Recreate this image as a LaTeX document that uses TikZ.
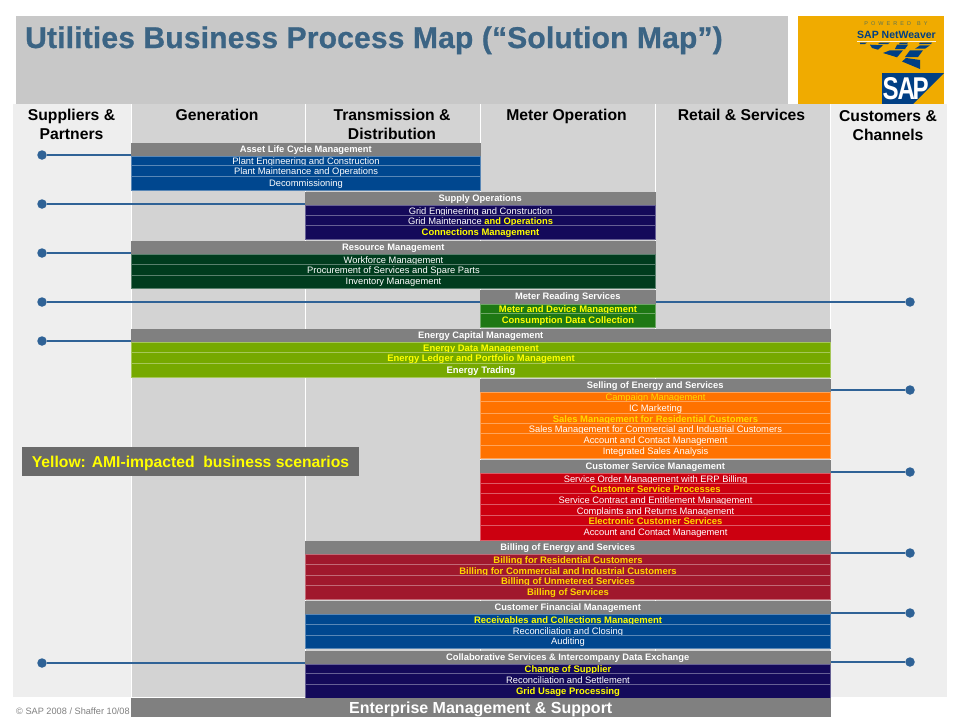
\documentclass[tikz,border=0pt]{standalone}
\usepackage{fontspec}
\setmainfont{Liberation Sans}
\newfontfamily\heavyfont[FakeBold=0.8,LetterSpace=0.6]{Liberation Sans Bold}
\usetikzlibrary{calc}
\definecolor{hdrgrey}{HTML}{C8C8C8}
\definecolor{colgrey}{HTML}{D3D3D3}
\definecolor{sidegrey}{HTML}{EEEEEE}
\definecolor{barg}{HTML}{808080}
\definecolor{legg}{HTML}{6A6A6A}
\definecolor{titleblue}{HTML}{3B6484}
\definecolor{linkblue}{HTML}{2F6296}
\definecolor{sapgold}{HTML}{F0AB00}
\definecolor{sapblue}{HTML}{003F84}
\definecolor{cblue}{HTML}{00478F}
\definecolor{cnavy}{HTML}{140A5A}
\definecolor{cdgreen}{HTML}{003C1E}
\definecolor{cgreen}{HTML}{1E7814}
\definecolor{colive}{HTML}{76A900}
\definecolor{corange}{HTML}{FF7200}
\definecolor{cred}{HTML}{CC0010}
\definecolor{ccrim}{HTML}{A0182D}
\definecolor{yel}{HTML}{FFFF00}
\definecolor{gold}{HTML}{FFD800}
\newcommand{\fsz}[1]{\fontsize{#1}{#1}\selectfont}
\newcommand{\cellbox}[7]{%
  \pgfmathsetmacro\cx{(#2+#3)/2}\pgfmathsetmacro\cy{(#4+#5)/2}%
  \pgfmathsetmacro\cw{#3-#2}\pgfmathsetmacro\ch{#5-#4}%
  \node[#6,minimum width=\cw pt,minimum height=\ch pt] (#1) at (\cx,\cy) {#7};}
\tikzset{
  x=1pt,y=-1pt,
  boxbase/.style={inner sep=0pt,outer sep=0pt,align=center},
  hbar/.style={boxbase,fill=barg,text=white,font=\fsz{9.35}\bfseries,text height=6.5pt,text depth=1.5pt},
  rowbox/.style={boxbase,draw=#1!65!white,line width=.5pt,fill=#1,text=white,font=\fsz{9.35},text height=8pt,text depth=0pt},
  lastrow/.style={text height=7pt,text depth=1pt},
  yb/.style={text=yel,font=\fsz{9.45}\bfseries},
  gb/.style={text=gold,font=\fsz{9.45}\bfseries},
  wb/.style={font=\fsz{9.45}\bfseries},
  bigbar/.style={boxbase,fill=barg,text=white,font=\fsz{16}\bfseries,text height=12pt,text depth=0pt},
  legbox/.style={boxbase,fill=legg,text=yel,font=\fsz{15.7}\bfseries,text height=12pt,text depth=0pt},
  colhead/.style={font=\fsz{15.7}\bfseries,text=black,align=center,inner sep=0pt},
  dot/.style={circle,fill=linkblue,minimum size=9.5pt,inner sep=0pt},
  link/.style={draw=linkblue,line width=1.7pt},
}
\begin{document}
\begin{tikzpicture}
\useasboundingbox (0,0) rectangle (960,720);
\fill[white] (0,0) rectangle (960,720);
% header
\fill[hdrgrey] (16,16) rectangle (788,104);
\fill[sapgold] (798,16) rectangle (944,104);
\node[anchor=base west,inner sep=0pt,text=titleblue,font=\fsz{30}\heavyfont] (title) at (25,48) {Utilities Business Process Map (“Solution Map”)};
% logo
\node[anchor=base,inner sep=0pt,text=sapblue!65!gold,font=\fsz{5.5}] (pw) at (896,25) {P\;\;O\;\;W\;\;E\;\;R\;\;E\;\;D\;\;\;\;B\;\;Y};
\node[anchor=base,inner sep=0pt,text=sapblue,font=\fsz{10.5}\bfseries] (nw) at (896.5,38) {SAP NetWeaver};
\fill[white!85!sapgold] (857,41) rectangle (936,42);
\fill[sapblue] (860,42.5)--(867,42.5)--(865,44)--(860,44)--cycle;
\fill[sapblue] (880,42.5)--(890,42.5)--(888,44)--(878,44)--cycle;
\fill[sapblue] (900,42.5)--(908,42.5)--(907,44)--(899,44)--cycle;
\fill[sapblue] (920,42.5)--(932,42.5)--(931,44)--(919,44)--cycle;
\fill[sapblue] (870,44.7)--(883,45.3)--(878,49.7)--(872,48)--cycle;
\fill[sapblue] (897,44.7)--(908,44.7)--(905,49)--(895,49)--cycle;
\fill[sapblue] (920,45.3)--(930,45.3)--(925,48.7)--(915,48.7)--cycle;
\fill[sapblue] (890,50.3)--(903,50.3)--(897,57.3)--(883,53)--cycle;
\fill[sapblue] (910,50.3)--(923,50.3)--(918,57)--(905,57)--cycle;
\fill[sapblue] (906,58)--(920,60)--(920,69)--(902,61.5)--cycle;
\fill[sapblue] (882,73)--(944,73)--(913,104)--(882,104)--cycle;
\node[anchor=south west,inner sep=0pt,text=white,font=\bfseries] (saplogo) at (882.5,100) {\resizebox{46pt}{22pt}{S\kern-.5pt A\kern-1pt P}};
% columns
\fill[sidegrey] (13,104) rectangle (947,697);
\fill[colgrey] (132,104) rectangle (830,697);
\foreach \xx in {131.5,305.5,480.5,655.5,830.5}{\draw[white,line width=1pt] (\xx,104) -- (\xx,697);}
\node[colhead] (c1) at (71.5,124.5) {Suppliers \&\\[3pt]Partners};
\node[colhead] (c2) at (217,115) {Generation};
\node[colhead] (c3) at (392,124.5) {Transmission \&\\[3pt]Distribution};
\node[colhead] (c4) at (566.5,116.5) {Meter Operation};
\node[colhead] (c5) at (741.5,115) {Retail \& Services};
\node[colhead] (c6) at (888,125.5) {Customers \&\\[3pt]Channels};
% block 1
\cellbox{h1}{131}{480.5}{143}{156}{hbar}{Asset Life Cycle Management}
\cellbox{r1a}{131.5}{480.5}{156}{165}{rowbox=cblue}{Plant Engineering and Construction}
\cellbox{r1b}{131.5}{480.5}{165}{176.5}{rowbox=cblue}{Plant Maintenance and Operations}
\cellbox{r1c}{131.5}{480.5}{176.5}{190}{rowbox=cblue,lastrow}{Decommissioning}
% block 2
\cellbox{h2}{305}{655.5}{192}{205}{hbar}{Supply Operations}
\cellbox{r2a}{305.5}{655.5}{205}{215}{rowbox=cnavy}{Grid Engineering and Construction}
\cellbox{r2b}{305.5}{655.5}{215}{225}{rowbox=cnavy}{Grid Maintenance {\color{yel}\bfseries and Operations}}
\cellbox{r2c}{305.5}{655.5}{225}{239}{rowbox=cnavy,yb,lastrow}{Connections Management}
% block 3
\cellbox{h3}{131}{655.5}{241}{254}{hbar}{Resource Management}
\cellbox{r3a}{131.5}{655.5}{254}{264.5}{rowbox=cdgreen}{Workforce Management}
\cellbox{r3b}{131.5}{655.5}{264.5}{275}{rowbox=cdgreen}{Procurement of Services and Spare Parts}
\cellbox{r3c}{131.5}{655.5}{275}{288}{rowbox=cdgreen,lastrow}{Inventory Management}
% block 4
\cellbox{h4}{480}{655.5}{290}{304}{hbar}{Meter Reading Services}
\cellbox{r4a}{480.5}{655.5}{304}{313}{rowbox=cgreen,yb}{Meter and Device Management}
\cellbox{r4b}{480.5}{655.5}{313}{327}{rowbox=cgreen,yb,lastrow}{Consumption Data Collection}
% block 5
\cellbox{h5}{131}{830.5}{329}{342}{hbar}{Energy Capital Management}
\cellbox{r5a}{131.5}{830.5}{342}{352.5}{rowbox=colive,yb}{Energy Data Management}
\cellbox{r5b}{131.5}{830.5}{352.5}{363}{rowbox=colive,yb}{Energy Ledger and Portfolio Management}
\cellbox{r5c}{131.5}{830.5}{363}{377}{rowbox=colive,wb,lastrow}{Energy Trading}
% block 6
\cellbox{h6}{480}{830.5}{379}{392}{hbar}{Selling of Energy and Services}
\cellbox{r6a}{480.5}{830.5}{392}{401}{rowbox=corange,text=gold}{Campaign Management}
\cellbox{r6b}{480.5}{830.5}{401}{413}{rowbox=corange}{IC Marketing}
\cellbox{r6c}{480.5}{830.5}{413}{423}{rowbox=corange,gb}{Sales Management for Residential Customers}
\cellbox{r6d}{480.5}{830.5}{423}{433.5}{rowbox=corange}{Sales Management for Commercial and Industrial Customers}
\cellbox{r6e}{480.5}{830.5}{433.5}{445}{rowbox=corange}{Account and Contact Management}
\cellbox{r6f}{480.5}{830.5}{445}{458}{rowbox=corange,lastrow}{Integrated Sales Analysis}
% block 7
\cellbox{h7}{480}{830.5}{460}{473}{hbar}{Customer Service Management}
\cellbox{r7a}{480.5}{830.5}{473}{483}{rowbox=cred}{Service Order Management with ERP Billing}
\cellbox{r7b}{480.5}{830.5}{483}{493.5}{rowbox=cred,gb}{Customer Service Processes}
\cellbox{r7c}{480.5}{830.5}{493.5}{504.5}{rowbox=cred}{Service Contract and Entitlement Management}
\cellbox{r7d}{480.5}{830.5}{504.5}{515.5}{rowbox=cred}{Complaints and Returns Management}
\cellbox{r7e}{480.5}{830.5}{515.5}{525.5}{rowbox=cred,gb}{Electronic Customer Services}
\cellbox{r7f}{480.5}{830.5}{525.5}{540}{rowbox=cred,lastrow}{Account and Contact Management}
% block 8
\cellbox{h8}{305}{830.5}{541}{554}{hbar}{Billing of Energy and Services}
\cellbox{r8a}{305.5}{830.5}{554}{564.5}{rowbox=ccrim,gb}{Billing for Residential Customers}
\cellbox{r8b}{305.5}{830.5}{564.5}{575.5}{rowbox=ccrim,gb}{Billing for Commercial and Industrial Customers}
\cellbox{r8c}{305.5}{830.5}{575.5}{585.5}{rowbox=ccrim,gb}{Billing of Unmetered Services}
\cellbox{r8d}{305.5}{830.5}{585.5}{599}{rowbox=ccrim,gb,lastrow}{Billing of Services}
% block 9
\cellbox{h9}{305}{830.5}{601}{614}{hbar}{Customer Financial Management}
\cellbox{r9a}{305.5}{830.5}{614}{624.5}{rowbox=cblue,yb}{Receivables and Collections Management}
\cellbox{r9b}{305.5}{830.5}{624.5}{635.5}{rowbox=cblue}{Reconciliation and Closing}
\cellbox{r9c}{305.5}{830.5}{635.5}{648}{rowbox=cblue,lastrow}{Auditing}
% block 10
\cellbox{h10}{305}{830.5}{651}{664}{hbar}{Collaborative Services \& Intercompany Data Exchange}
\cellbox{r10a}{305.5}{830.5}{664}{673.5}{rowbox=cnavy,yb}{Change of Supplier}
\cellbox{r10b}{305.5}{830.5}{673.5}{684.5}{rowbox=cnavy}{Reconciliation and Settlement}
\cellbox{r10c}{305.5}{830.5}{684.5}{698}{rowbox=cnavy,yb,lastrow}{Grid Usage Processing}
% enterprise
\cellbox{ent}{131}{830.5}{698}{717}{bigbar}{Enterprise Management \& Support}
% legend
\cellbox{leg}{22}{359}{447}{476}{legbox}{Yellow: AMI-impacted \ business scenarios}
% footer
\node[anchor=base west,inner sep=0pt,text=gray,font=\fsz{9.2}] (foot) at (16,714) {© SAP 2008 / Shaffer 10/08};
% dots and links
\node[dot] (l1) at (42,155) {};
\node[dot] (l2) at (42,204) {};
\node[dot] (l3) at (42,253) {};
\node[dot] (l4) at (42,302) {};
\node[dot] (l5) at (42,341) {};
\node[dot] (l6) at (42,663) {};
\node[dot] (d4) at (910,302) {};
\node[dot] (d6) at (910,390) {};
\node[dot] (d7) at (910,472) {};
\node[dot] (d8) at (910,553) {};
\node[dot] (d9) at (910,613) {};
\node[dot] (d10) at (910,662) {};
\draw[link] (l1) -- (l1 -| h1.west);
\draw[link] (l2) -- (l2 -| h2.west);
\draw[link] (l3) -- (l3 -| h3.west);
\draw[link] (l4) -- (l4 -| h4.west);
\draw[link] (l5) -- (l5 -| h5.west);
\draw[link] (l6) -- (l6 -| h10.west);
\draw[link] (d4) -- (d4 -| h4.east);
\draw[link] (d6) -- (d6 -| h6.east);
\draw[link] (d7) -- (d7 -| h7.east);
\draw[link] (d8) -- (d8 -| h8.east);
\draw[link] (d9) -- (d9 -| h9.east);
\draw[link] (d10) -- (d10 -| h10.east);
\end{tikzpicture}
\end{document}
